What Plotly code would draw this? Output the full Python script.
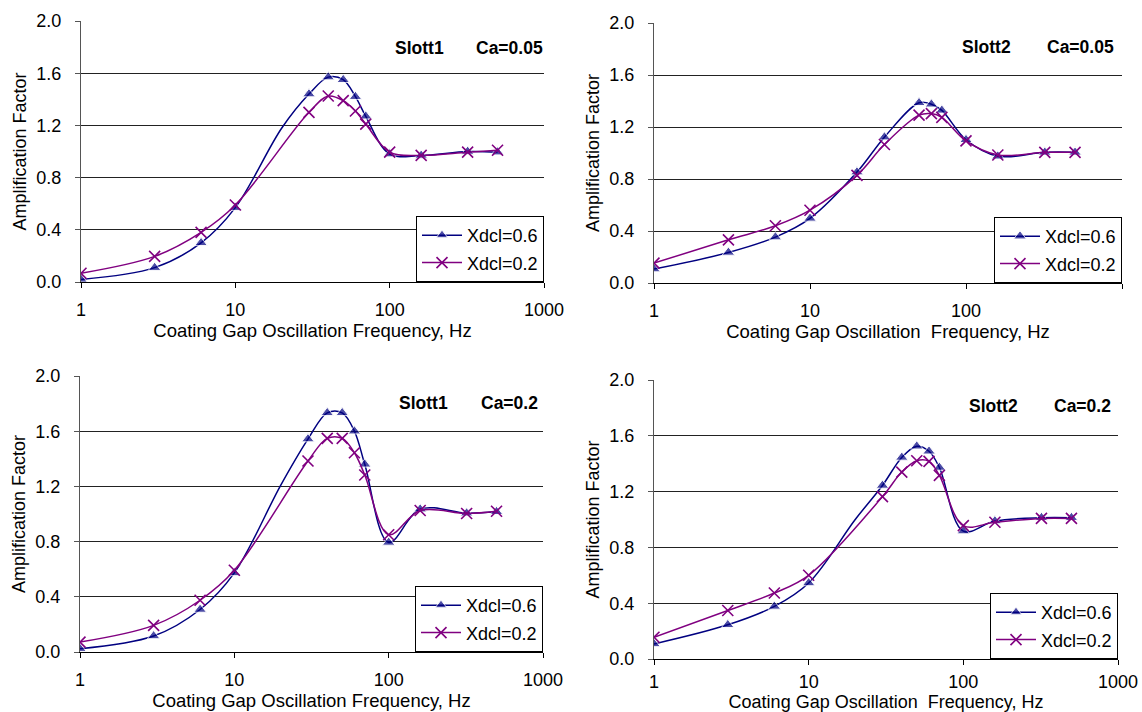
import plotly.graph_objects as go

# ---------------- data ----------------
tick_vals = [1, 10, 100, 1000]
tick_text = ["1", "10", "100", "1000"]
y_ticks = [0.0, 0.4, 0.8, 1.2, 1.6, 2.0]

# Panel 1: Slott1, Ca=0.05
p1_freq_06 = [1, 3, 6, 10, 20, 30, 40, 50, 60, 70, 100, 160, 320, 500]
p1_amp_06 = [0.02, 0.11, 0.30, 0.57, 1.18, 1.44, 1.57, 1.55, 1.42, 1.27, 0.98, 0.97, 1.00, 0.995]
p1_freq_02 = [1, 3, 6, 10, 30, 40, 50, 60, 70, 100, 160, 320, 500]
p1_amp_02 = [0.067, 0.196, 0.38, 0.59, 1.30, 1.425, 1.39, 1.31, 1.21, 0.995, 0.97, 0.995, 1.01]

# Panel 2: Slott2, Ca=0.05
p2_freq_06 = [1, 3, 6, 10, 20, 30, 50, 60, 70, 100, 160, 320, 500]
p2_amp_06 = [0.107, 0.235, 0.353, 0.497, 0.853, 1.122, 1.386, 1.375, 1.328, 1.102, 0.975, 1.005, 1.005]
p2_freq_02 = [1, 3, 6, 10, 20, 30, 50, 60, 70, 100, 160, 320, 500]
p2_amp_02 = [0.153, 0.332, 0.44, 0.56, 0.828, 1.065, 1.291, 1.303, 1.274, 1.093, 0.985, 1.005, 1.005]

# Panel 3: Slott1, Ca=0.2
p3_freq_06 = [1, 3, 6, 10, 20, 30, 40, 50, 60, 70, 100, 160, 320, 500]
p3_amp_06 = [0.024, 0.116, 0.308, 0.573, 1.21, 1.543, 1.733, 1.733, 1.60, 1.36, 0.794, 1.035, 1.006, 1.016]
p3_freq_02 = [1, 3, 6, 10, 30, 40, 50, 60, 70, 100, 160, 320, 500]
p3_amp_02 = [0.072, 0.193, 0.375, 0.592, 1.384, 1.548, 1.548, 1.444, 1.283, 0.85, 1.025, 1.004, 1.02]

# Panel 4: Slott2, Ca=0.2
p4_freq_06 = [1, 3, 6, 10, 20, 30, 40, 50, 60, 70, 100, 160, 320, 500]
p4_amp_06 = [0.108, 0.245, 0.377, 0.545, 1.00, 1.244, 1.445, 1.525, 1.489, 1.373, 0.917, 0.989, 1.013, 1.013]
p4_freq_02 = [1, 3, 6, 10, 30, 40, 50, 60, 70, 100, 160, 320, 500]
p4_amp_02 = [0.156, 0.348, 0.473, 0.60, 1.164, 1.34, 1.421, 1.417, 1.316, 0.956, 0.98, 1.008, 1.008]

# points drawn without a marker (curve passes through them only)
no_marker = {1: [20], 2: [], 3: [20], 4: [20]}

panel_slot = ["Slott1", "Slott2", "Slott1", "Slott2"]
panel_ca = ["Ca=0.05", "Ca=0.05", "Ca=0.2", "Ca=0.2"]
x_titles = ["Coating Gap Oscillation Frequency, Hz",
            "Coating Gap Oscillation\u00a0 Frequency, Hz",
            "Coating Gap Oscillation Frequency, Hz",
            "Coating Gap Oscillation\u00a0 Frequency, Hz"]
y_title = "Amplification Factor"
series_names = ["Xdcl=0.6", "Xdcl=0.2"]

panels = [
    (p1_freq_06, p1_amp_06, p1_freq_02, p1_amp_02),
    (p2_freq_06, p2_amp_06, p2_freq_02, p2_amp_02),
    (p3_freq_06, p3_amp_06, p3_freq_02, p3_amp_02),
    (p4_freq_06, p4_amp_06, p4_freq_02, p4_amp_02),
]

# ---------------- layout geometry (pixels of a 1142x712 canvas) ----------------
W, H = 1142, 712
# (left, right, top, bottom) of each plot area
boxes = [(81, 544, 21, 282), (654, 1122, 23, 283), (80, 543, 376, 652), (654, 1118, 380, 659)]
# title label positions: (slot left x, ca right x, y center)
title_pos = [(393, 545, 48), (960, 1116, 47), (397, 540, 403), (967, 1113, 406)]
# (tick label standoff, x title standoff, x title font size) per panel
x_label_style = [(6, 3, 18.5), (6, 3, 18.5), (6, 3, 18.5), (1, 3, 18)]

BLUE = "#000080"
PURPLE = "#800080"
FONT = "Liberation Sans, Arial, Helvetica, sans-serif"

fig = go.Figure()
layout = dict(
    width=W, height=H,
    margin=dict(l=0, r=0, t=0, b=0, autoexpand=False),
    paper_bgcolor="white", plot_bgcolor="white",
    font=dict(family=FONT, size=18, color="black"),
    showlegend=True,
    annotations=[],
)

for i, (f06, a06, f02, a02) in enumerate(panels):
    k = i + 1
    sfx = "" if k == 1 else str(k)
    xa, ya = "x" + sfx, "y" + sfx
    lg = "legend" + sfx
    sizes06 = [0 if f in no_marker[k] else 11 for f in f06]
    fig.add_trace(go.Scatter(
        x=f06, y=a06, mode="lines+markers", name=series_names[0],
        xaxis=xa, yaxis=ya, legend=lg, legendgroup="a%d" % k,
        line=dict(color=BLUE, width=1.5, shape="spline", smoothing=1.0),
        marker=dict(symbol="triangle-up", size=sizes06, color=BLUE),
    ))
    fig.add_trace(go.Scatter(
        x=f02, y=a02, mode="lines+markers", name=series_names[1],
        xaxis=xa, yaxis=ya, legend=lg, legendgroup="b%d" % k,
        line=dict(color=PURPLE, width=1.5, shape="spline", smoothing=1.0),
        marker=dict(symbol="x-thin", size=11, color=PURPLE,
                    line=dict(color=PURPLE, width=1.6)),
    ))

    l, r, t, b = boxes[i]
    tls, tts, tfs = x_label_style[i]
    layout["xaxis" + sfx] = dict(
        domain=[l / W, r / W], anchor=ya, type="log", range=[0, 3],
        tickvals=tick_vals, ticktext=tick_text,
        showgrid=False, zeroline=False, automargin=False,
        showline=True, linecolor="black", linewidth=1,
        ticks="outside", ticklen=5, tickcolor="black",
        ticklabelstandoff=tls,
        tickfont=dict(size=18),
        title=dict(text=x_titles[i], font=dict(size=tfs), standoff=tts),
    )
    layout["yaxis" + sfx] = dict(
        domain=[1 - b / H, 1 - t / H], anchor=xa, range=[0, 2],
        tickvals=y_ticks, tickformat=".1f",
        showgrid=True, gridcolor="#222222", gridwidth=1,
        zeroline=False, automargin=False,
        showline=True, linecolor="#555555", linewidth=1,
        ticks="outside", ticklen=5, tickcolor="#555555",
        ticklabelstandoff=10,
        tickfont=dict(size=18),
        title=dict(text=y_title, font=dict(size=18), standoff=5),
    )
    layout[lg] = dict(
        x=r / W, y=1 - b / H, xanchor="right", yanchor="bottom",
        bgcolor="white", bordercolor="black", borderwidth=1,
        font=dict(size=18), traceorder="grouped", tracegroupgap=1,
        itemwidth=40,
    )
    sx, cx, ty = title_pos[i]
    layout["annotations"].append(dict(
        text="<b>%s</b>" % panel_slot[i], xref="paper", yref="paper",
        x=sx / W, y=1 - ty / H, xanchor="left", yanchor="middle",
        showarrow=False, font=dict(size=17.5)))
    layout["annotations"].append(dict(
        text="<b>%s</b>" % panel_ca[i], xref="paper", yref="paper",
        x=cx / W, y=1 - ty / H, xanchor="right", yanchor="middle",
        showarrow=False, font=dict(size=17.5)))

fig.update_layout(**layout)
fig.write_html("out.html",
               config={"displayModeBar": False},
               post_script="document.body.style.margin='0';document.body.style.overflow='hidden';")
